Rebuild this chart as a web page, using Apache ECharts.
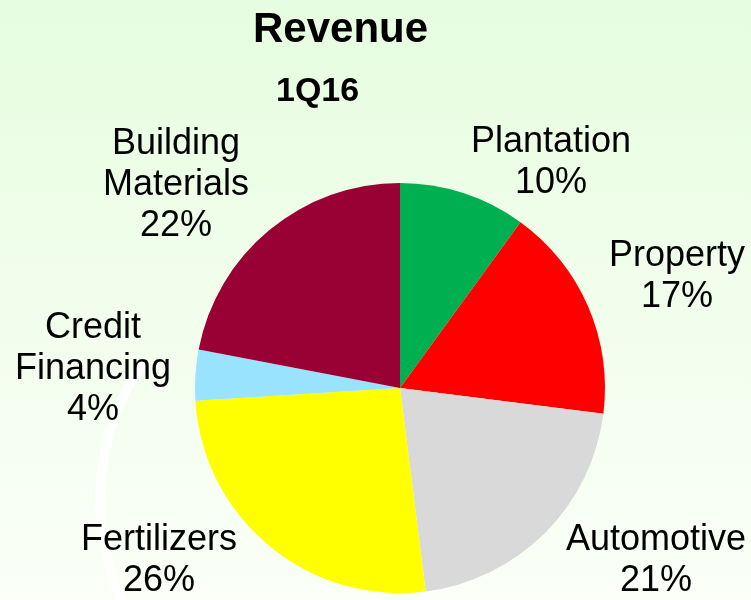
<!DOCTYPE html>
<html lang="en">
<head>
    <meta charset="UTF-8">
    <title>Revenue 1Q16</title>
    <script src="https://cdn.jsdelivr.net/npm/echarts@6/dist/echarts.min.js"></script>
    <style>
        html, body { margin: 0; padding: 0; }
        #container { width: 751px; height: 600px; }
    </style>
</head>
<body>
<div id="container"></div>
<script>
    // data
    var categories = ['Plantation', 'Property', 'Automotive', 'Fertilizers', 'Credit Financing', 'Building Materials'];
    var labelNames = ['Plantation', 'Property', 'Automotive', 'Fertilizers', 'Credit\nFinancing', 'Building\nMaterials'];
    var shares = [10, 17, 21, 26, 4, 22];
    var colors = ['#00b050', '#ff0000', '#d9d9d9', '#ffff00', '#99e3ff', '#990033'];

    // where each label block sits (centre of text), pixels
    var labelPos = [[551, 163], [677, 277], [656, 561], [159, 561], [93, 369], [176, 185]];

    var pieData = [];
    for (var i = 0; i < shares.length; i++) {
        pieData.push({
            name: categories[i],
            value: shares[i],
            itemStyle: { color: colors[i] }
        });
    }

    var dom = document.getElementById('container');
    var myChart = echarts.init(dom);

    var option = {
        backgroundColor: {
            type: 'linear', x: 0, y: 0, x2: 0, y2: 1,
            colorStops: [
                { offset: 0, color: '#e6fde0' },
                { offset: 0.6, color: '#f3feee' },
                { offset: 1, color: '#fbfff7' }
            ]
        },
        title: [
            {
                text: 'Revenue',
                left: 248, top: 4,
                textStyle: { fontFamily: 'Liberation Sans', fontSize: 42, fontWeight: 'bold', color: '#000' }
            },
            {
                text: '1Q16',
                left: 271, top: 70,
                textStyle: { fontFamily: 'Liberation Sans', fontSize: 34, fontWeight: 'bold', color: '#000' }
            }
        ],
        graphic: [
            {
                type: 'arc',
                silent: true,
                shape: { cx: 340, cy: 500, r: 240, startAngle: Math.PI * 0.7, endAngle: Math.PI * 1.2 },
                style: { stroke: '#ffffff', lineWidth: 10, fill: null, opacity: 0.8 },
                z: -1
            }
        ],
        series: [
            {
                type: 'pie',
                center: [400, 388],
                radius: 205,
                startAngle: 90,
                clockwise: true,
                animation: false,
                data: pieData,
                label: {
                    show: true,
                    position: 'outside',
                    overflow: 'none',
                    fontFamily: 'Liberation Sans',
                    fontSize: 36,
                    lineHeight: 41,
                    color: '#000',
                    formatter: function (p) {
                        return labelNames[p.dataIndex] + '\n' + p.value + '%';
                    }
                },
                labelLine: { show: false },
                labelLayout: function (p) {
                    var pos = labelPos[p.dataIndex];
                    return { x: pos[0], y: pos[1], align: 'center', verticalAlign: 'middle', hideOverlap: false };
                },
                emphasis: { disabled: true }
            }
        ]
    };

    myChart.setOption(option);
</script>
</body>
</html>
